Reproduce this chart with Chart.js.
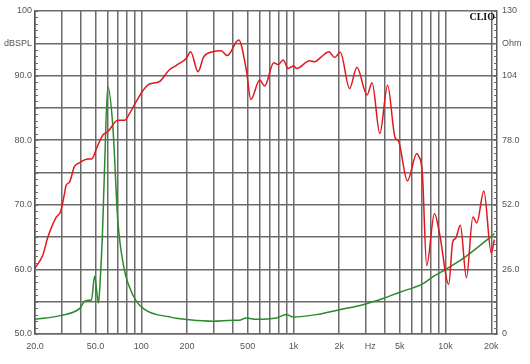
<!DOCTYPE html>
<html>
<head>
<meta charset="utf-8">
<script src="https://cdn.jsdelivr.net/npm/chart.js@4"></script>
<style>
  body { margin: 0; background: #fff; }
  canvas { display: block; }
</style>
</head>
<body>
<canvas id="clioChart" width="530" height="364"></canvas>
<script>
// SPL curve (red)
const splFreq = [20, 22.5, 24.3, 27.6, 29.4, 31.3, 32, 33.7, 36.3, 39.2, 44.5, 47.3, 50.5, 55.9, 60.2, 70, 77.6, 83.6, 92.6, 105, 113, 131, 153, 170, 198, 211, 236, 257, 295, 335, 367, 437, 490, 525, 600, 648, 742, 792, 856, 924, 1002, 1052, 1278, 1378, 1526, 1712, 1866, 2034, 2340, 2616, 3048, 3290, 3700, 4160, 4660, 4900, 5616, 6476, 6600, 7040, 7520, 8460, 9140, 10500, 11160, 11640, 12520, 13720, 15140, 16060, 17870, 19980, 20960];
const splValues = [60.2, 62.2, 65.0, 68.1, 68.9, 71.8, 73.0, 73.5, 75.9, 76.5, 77.1, 77.1, 78.6, 80.8, 81.3, 83.1, 83.1, 84.1, 86.0, 88.0, 88.7, 89.05, 90.9, 91.6, 92.7, 93.7, 90.6, 92.9, 93.7, 93.85, 93.1, 95.5, 90.9, 86.3, 89.3, 88.4, 92.0, 91.7, 92.4, 91.1, 91.5, 91.1, 92.3, 92.15, 92.9, 93.7, 92.8, 93.6, 88.0, 91.3, 87.0, 88.9, 81.05, 88.5, 80.4, 79.9, 73.7, 77.95, 77.7, 74.9, 60.6, 68.65, 65.55, 57.7, 64.3, 64.8, 66.85, 58.7, 68.1, 67.2, 72.15, 62.55, 64.6];

// impedance curve (green), in Ohm
const impFreq = [20, 29.7, 39.2, 42.5, 45.3, 47, 49.3, 52.3, 53.6, 55.5, 57.2, 60.2, 65, 70, 77.3, 83.6, 92.6, 105, 125, 150, 169, 198, 295, 400, 440, 490, 571, 772, 898, 1000, 1414, 2010, 2868, 3888, 5000, 7120, 8240, 9600, 13200, 19500, 20960];
const impValues = [5.9, 7.5, 10.2, 13.2, 13.6, 13.6, 23.2, 12.5, 21, 40, 65, 99.5, 83.4, 46, 25.9, 18.9, 13.2, 9.95, 7.9, 7.0, 6.3, 5.8, 5.1, 5.5, 5.5, 6.45, 5.9, 6.45, 7.8, 6.85, 7.8, 9.8, 11.8, 14.3, 16.8, 20.3, 23, 25.3, 30.6, 38.8, 40.4];

// axes
const gridFreqs = [20, 30, 40, 50, 60, 70, 80, 90, 100, 200, 300, 400, 500, 600, 700, 800, 900, 1000, 2000, 3000, 4000, 5000, 6000, 7000, 8000, 9000, 10000, 20000];
const freqLabelPos = [20, 50, 100, 200, 500, 1000, 2000, 3200, 5000, 10000, 20000];
const freqLabels = ['20.0', '50.0', '100', '200', '500', '1k', '2k', 'Hz', '5k', '10k', '20k'];
const splTicks = [50, 55, 60, 65, 70, 75, 80, 85, 90, 95, 100];
const splTickLabels = ['50.0', '', '60.0', '', '70.0', '', '80.0', '', '90.0', 'dBSPL', '100'];
const ohmTicks = [0, 13, 26, 39, 52, 65, 78, 91, 104, 117, 130];
const ohmTickLabels = ['0', '', '26.0', '', '52.0', '', '78.0', '', '104', 'Ohm', '130'];

const gridColor = '#6b6b6b';
const labelFont = { family: '"Liberation Sans", Arial, sans-serif', size: 9 };
const labelColor = '#555';

function toPoints(xs, ys) {
    return xs.map((x, i) => ({ x: x, y: ys[i] }));
}

// small inward ticks on both vertical axes + CLIO mark
const decorPlugin = {
    id: 'decor',
    afterDraw(chart) {
        const ctx = chart.ctx;
        const area = chart.chartArea;
        const y = chart.scales.y;
        ctx.save();
        ctx.strokeStyle = gridColor;
        ctx.lineWidth = 1;
        for (let v = 50; v <= 100; v++) {
            const py = Math.round(y.getPixelForValue(v)) + 0.5;
            ctx.beginPath();
            ctx.moveTo(area.left, py);
            ctx.lineTo(area.left + 3, py);
            ctx.moveTo(area.right - 3, py);
            ctx.lineTo(area.right, py);
            ctx.stroke();
        }
        ctx.fillStyle = '#111';
        ctx.font = 'bold 10px "Liberation Serif", serif';
        ctx.textAlign = 'right';
        ctx.textBaseline = 'top';
        ctx.fillText('CLIO', area.right - 2, area.top + 1);
        ctx.restore();
    }
};

new Chart(document.getElementById('clioChart'), {
    type: 'line',
    data: {
        datasets: [
            {
                label: 'dBSPL',
                data: toPoints(splFreq, splValues),
                yAxisID: 'y',
                xAxisID: 'x',
                borderColor: '#e3161d',
                borderWidth: 1.5,
                pointRadius: 0,
                cubicInterpolationMode: 'monotone'
            },
            {
                label: 'Ohm',
                data: toPoints(impFreq, impValues),
                yAxisID: 'y2',
                xAxisID: 'x',
                borderColor: '#2b8a2b',
                borderWidth: 1.5,
                pointRadius: 0,
                cubicInterpolationMode: 'monotone'
            }
        ]
    },
    options: {
        responsive: false,
        animation: false,
        layout: { padding: { top: 11, left: 0, right: 0, bottom: 0 } },
        plugins: {
            legend: { display: false },
            tooltip: { enabled: false }
        },
        scales: {
            x: {
                type: 'logarithmic',
                position: 'bottom',
                min: 20,
                max: 21800,
                afterBuildTicks: axis => { axis.ticks = gridFreqs.map(v => ({ value: v })); },
                afterFit: axis => { axis.height = 0; },
                ticks: { display: false },
                grid: { color: gridColor, lineWidth: 1.5, drawTicks: false },
                border: { display: true, color: gridColor, width: 1.5 }
            },
            xl: {
                type: 'logarithmic',
                position: 'bottom',
                min: 20,
                max: 21800,
                afterBuildTicks: axis => { axis.ticks = freqLabelPos.map(v => ({ value: v })); },
                afterFit: axis => { axis.height = 30; },
                ticks: {
                    autoSkip: false,
                    maxRotation: 0,
                    padding: 7,
                    font: labelFont,
                    color: labelColor,
                    callback: (v, i) => freqLabels[i]
                },
                grid: { display: false, drawTicks: false },
                border: { display: false }
            },
            y: {
                position: 'left',
                min: 50,
                max: 100,
                afterBuildTicks: axis => { axis.ticks = splTicks.map(v => ({ value: v })); },
                afterFit: axis => { axis.width = 35; },
                ticks: {
                    padding: 3,
                    font: labelFont,
                    color: labelColor,
                    callback: (v, i) => splTickLabels[i]
                },
                grid: { color: gridColor, lineWidth: 1.5, drawTicks: false },
                border: { display: true, color: '#555', width: 1.5 }
            },
            y2: {
                position: 'right',
                min: 0,
                max: 130,
                afterBuildTicks: axis => { axis.ticks = ohmTicks.map(v => ({ value: v })); },
                afterFit: axis => { axis.width = 33; },
                ticks: {
                    padding: 5,
                    font: labelFont,
                    color: labelColor,
                    callback: (v, i) => ohmTickLabels[i]
                },
                grid: { display: false, drawTicks: false },
                border: { display: true, color: '#555', width: 1.5 }
            }
        }
    },
    plugins: [decorPlugin]
});
</script>
</body>
</html>
